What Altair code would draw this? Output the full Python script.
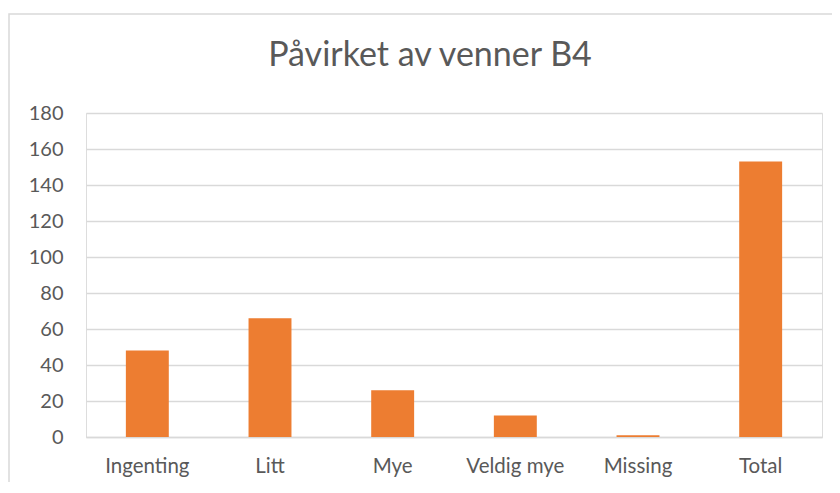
import altair as alt
import pandas as pd

categories = ["Ingenting", "Litt", "Mye", "Veldig mye", "Missing", "Total"]
values = [48, 66, 26, 12, 1, 153]
y_ticks = [0, 20, 40, 60, 80, 100, 120, 140, 160, 180]
title_text = "Påvirket av venner B4"

df = pd.DataFrame({"kategori": categories, "antall": values})

W, H = 736, 324
FONT = "Lato"
GREY = "#595959"

border = alt.Chart(alt.Data(values=[{}])).mark_rect(
    fill="transparent", stroke="#D9D9D9", strokeWidth=1.5
).encode(
    x=alt.value(-77), x2=alt.value(W + 60),
    y=alt.value(-99), y2=alt.value(H + 120),
)

bars = alt.Chart(df).mark_bar(color="#ED7D31").encode(
    x=alt.X("kategori:N", sort=categories,
            scale=alt.Scale(paddingInner=0.65, paddingOuter=0.325),
            axis=alt.Axis(title=None, labelAngle=0, ticks=False,
                          domainColor="#D9D9D9", domainWidth=1.5,
                          labelFont=FONT, labelFontSize=20.5, labelColor=GREY,
                          labelPadding=19)),
    y=alt.Y("antall:Q", scale=alt.Scale(domain=[0, 180]),
            axis=alt.Axis(title=None, values=y_ticks, ticks=False, domain=False,
                          gridColor="#D9D9D9", gridWidth=1.5,
                          labelFont=FONT, labelFontSize=20, labelColor=GREY,
                          labelPadding=23)),
)

chart = alt.layer(border, bars).properties(
    width=W, height=H,
    title=alt.TitleParams(title_text, font=FONT, fontSize=34, fontWeight="normal",
                          color=GREY, anchor="middle", dx=-24, frame="group",
                          baseline="alphabetic", offset=0, dy=87),
    autosize=alt.AutoSizeParams(type="none"),
    padding={"left": 78, "top": 105, "right": 10, "bottom": 45},
).configure_view(stroke=None).configure(background="white")

chart.save("out.html", embed_options={"renderer": "svg", "actions": False})
